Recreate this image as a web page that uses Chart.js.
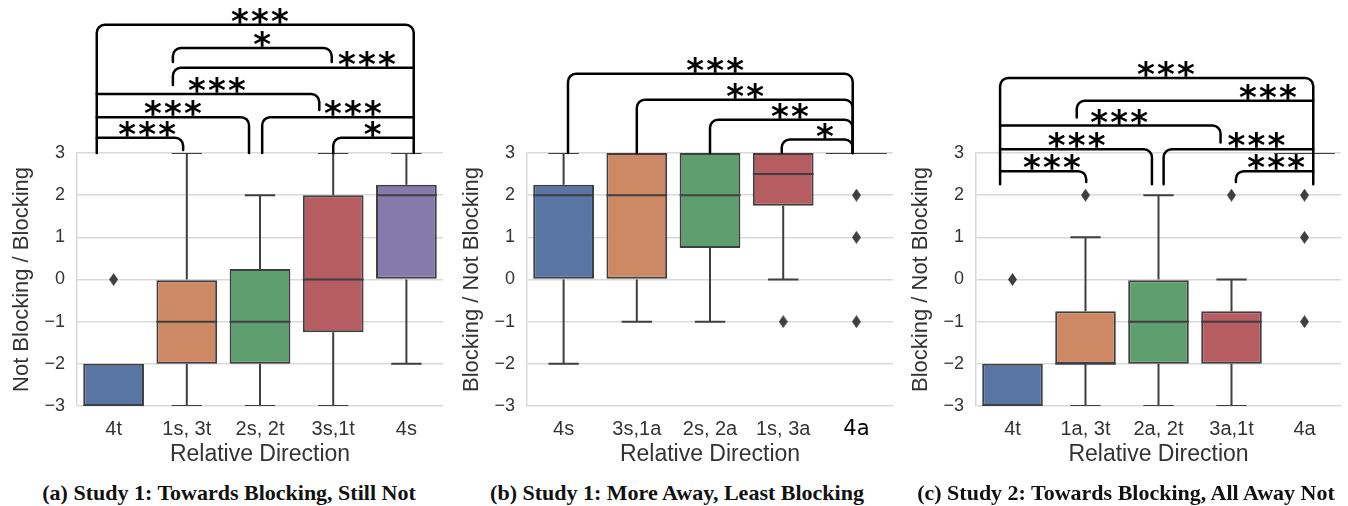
<!DOCTYPE html>
<html>
<head>
<meta charset="utf-8">
<script src="https://cdn.jsdelivr.net/npm/chart.js@4.4.1/dist/chart.umd.min.js"></script>
<style>
  body { margin: 0; background: #fff; width: 1348px; height: 506px; overflow: hidden; position: relative; }
  .panel { position: absolute; top: 0; width: 450px; height: 470px; }
  .caption { position: absolute; top: 480px; font: bold 22px "Liberation Serif", serif; color: #111; white-space: nowrap; transform: translateX(-50%); }
</style>
</head>
<body>
<div class="panel" style="left:0"><canvas id="chartA"></canvas></div>
<div class="panel" style="left:450px"><canvas id="chartB"></canvas></div>
<div class="panel" style="left:899px; width:449px"><canvas id="chartC"></canvas></div>
<div class="caption" style="left:229px">(a) Study 1: Towards Blocking, Still Not</div>
<div class="caption" style="left:677px">(b) Study 1: More Away, Least Blocking</div>
<div class="caption" style="left:1126px">(c) Study 2: Towards Blocking, All Away Not</div>
<script>
// (a) Study 1: Towards Blocking, Still Not
const labelsA = ['4t', '1s, 3t', '2s, 2t', '3s,1t', '4s'];
const lowA  = [-3, -3, -3, -3, -2];
const q1A   = [-3, -2, -2, -1.25, 0];
const medA  = [-3, -1, -1, 0, 2];
const q3A   = [-2, 0, 0.25, 2, 2.25];
const highA = [-2, 3, 2, 3, 3];
const outA  = [['4t', 0]];

// (b) Study 1: More Away, Least Blocking
const labelsB = ['4s', '3s,1a', '2s, 2a', '1s, 3a', '4a'];
const lowB  = [-2, -1, -1, 0, 3];
const q1B   = [0, 0, 0.75, 1.75, 3];
const medB  = [2, 2, 2, 2.5, 3];
const q3B   = [2.25, 3, 3, 3, 3];
const highB = [3, 3, 3, 3, 3];
const outB  = [['1s, 3a', -1], ['4a', 2], ['4a', 1], ['4a', -1]];

// (c) Study 2: Towards Blocking, All Away Not
const labelsC = ['4t', '1a, 3t', '2a, 2t', '3a,1t', '4a'];
const lowC  = [-3, -3, -3, -3, 3];
const q1C   = [-3, -2, -2, -2, 3];
const medC  = [-3, -2, -1, -1, 3];
const q3C   = [-2, -0.75, 0, -0.75, 3];
const highC = [-2, 1, 2, 0, 3];
const outC  = [['4t', 0], ['1a, 3t', 2], ['3a,1t', 2], ['4a', 2], ['4a', 1], ['4a', -1]];

const yTicks = [-3, -2, -1, 0, 1, 2, 3];

// significance brackets: [from, to, top, left end, right end, stars, stars at]
const sigA = [
  [-0.23, 4.1, 6.04, 3, 3, '***', 2.0],
  [0.81, 2.98, 5.49, 5.16, 5.16, '*', 2.03],
  [0.81, 4.1, 5.02, 4.61, 5.02, '***', 3.46],
  [-0.23, 2.81, 4.40, 4.40, 4.02, '***', 1.41],
  [-0.23, 1.85, 3.85, 3.85, 3, '***', 0.81],
  [2.03, 4.1, 3.85, 3, 3.85, '***', 3.27],
  [-0.23, 0.95, 3.36, 3.36, 3.07, '***', 0.46],
  [3.0, 4.1, 3.36, 3, 3.36, '*', 3.54]
];
const sigB = [
  [0.06, 3.95, 4.88, 3, 3, '***', 2.07],
  [1.0, 3.95, 4.26, 3, 3, '**', 2.48],
  [2.0, 3.95, 3.79, 3, 3, '**', 3.09],
  [2.98, 3.95, 3.32, 3, 3, '*', 3.57]
];
const sigC = [
  [-0.17, 4.12, 4.78, 2.26, 2.26, '***', 2.1],
  [0.88, 4.12, 4.24, 3.84, 4.24, '***', 3.5],
  [-0.17, 2.85, 3.65, 3.65, 3.25, '***', 1.46],
  [-0.17, 1.91, 3.09, 3.09, 2.26, '***', 0.88],
  [2.07, 4.12, 3.09, 2.26, 3.09, '***', 3.34],
  [-0.17, 1.01, 2.57, 2.57, 2.31, '***', 0.54],
  [3.06, 4.12, 2.57, 2.31, 2.57, '***', 3.61]
];

const COLORS = ['#5975a4', '#cc8963', '#5f9e6e', '#b55d60', '#857aab'];
const EDGE = '#3f3f3f';
const TEXT = '#333333';
const GRID = '#d9d9d9';
const FONT = '"Liberation Sans", Arial, sans-serif';

function diamond() {
    const c = document.createElement('canvas');
    c.width = 9;
    c.height = 13;
    const g = c.getContext('2d');
    g.fillStyle = EDGE;
    g.beginPath();
    g.moveTo(4.5, 0);
    g.lineTo(9, 6.5);
    g.lineTo(4.5, 13);
    g.lineTo(0, 6.5);
    g.closePath();
    g.fill();
    return c;
}

// medians and whiskers, drawn on top of the floating bars
const boxPlugin = {
    id: 'boxes',
    afterDatasetsDraw(chart) {
        const ds = chart.data.datasets[0];
        const meta = chart.getDatasetMeta(0);
        const y = chart.scales.y;
        const area = chart.chartArea;
        const ctx = chart.ctx;
        ctx.save();
        ctx.beginPath();
        ctx.rect(area.left, area.top, area.right - area.left, area.bottom - area.top);
        ctx.clip();
        ctx.strokeStyle = EDGE;
        ctx.lineWidth = 2;
        meta.data.forEach((bar, i) => {
            const half = bar.width / 2;
            const cap = bar.width / 4;
            const [q1, q3] = ds.data[i];
            const whiskers = [[q1, ds.low[i]], [q3, ds.high[i]]];
            whiskers.forEach(([from, to]) => {
                if (from === to) return;
                const a = y.getPixelForValue(from);
                const b = y.getPixelForValue(to);
                ctx.beginPath();
                ctx.moveTo(bar.x, a);
                ctx.lineTo(bar.x, b);
                ctx.moveTo(bar.x - cap, b);
                ctx.lineTo(bar.x + cap, b);
                ctx.stroke();
            });
            const m = y.getPixelForValue(ds.median[i]);
            ctx.beginPath();
            ctx.moveTo(bar.x - half, m);
            ctx.lineTo(bar.x + half, m);
            ctx.stroke();
        });
        ctx.restore();
    }
};

let starSize = null;

function drawStars(ctx, stars, cx, bottom) {
    if (!starSize) {
        ctx.font = 'bold 100px "DejaVu Sans"';
        const m = ctx.measureText('*');
        starSize = 100 * 16 / (m.actualBoundingBoxAscent + m.actualBoundingBoxDescent);
    }
    ctx.font = 'bold ' + starSize + 'px "DejaVu Sans"';
    ctx.textAlign = 'center';
    ctx.textBaseline = 'alphabetic';
    const m = ctx.measureText('*');
    const base = bottom - m.actualBoundingBoxDescent;
    for (let k = 0; k < stars.length; k++) {
        ctx.fillText('*', cx + (k - (stars.length - 1) / 2) * 20, base);
    }
}

function bracketPlugin(brackets) {
    return {
        id: 'brackets',
        afterDraw(chart) {
            const {ctx, scales: {x, y}} = chart;
            ctx.save();
            ctx.strokeStyle = '#000';
            ctx.fillStyle = '#000';
            ctx.lineWidth = 2.5;
            ctx.lineJoin = 'round';
            ctx.lineCap = 'round';
            brackets.forEach(([from, to, top, endL, endR, stars, at]) => {
                const x1 = x.getPixelForValue(from);
                const x2 = x.getPixelForValue(to);
                const yt = y.getPixelForValue(top);
                const yl = y.getPixelForValue(endL);
                const yr = y.getPixelForValue(endR);
                ctx.beginPath();
                ctx.moveTo(x1, yl);
                ctx.arcTo(x1, yt, x2, yt, Math.min(8, yl - yt));
                ctx.arcTo(x2, yt, x2, yr, Math.min(8, yr - yt));
                ctx.lineTo(x2, yr);
                ctx.stroke();
                drawStars(ctx, stars, x.getPixelForValue(at), yt - 1);
            });
            ctx.restore();
        }
    };
}

function drawPanel(id, labels, low, q1, med, q3, high, outliers, yTitle, brackets, oddLast) {
    const ctx = document.getElementById(id).getContext('2d');
    new Chart(ctx, {
        type: 'bar',
        data: {
            labels: labels,
            datasets: [{
                data: labels.map((_, i) => [q1[i], q3[i]]),
                low: low,
                median: med,
                high: high,
                backgroundColor: COLORS,
                borderColor: EDGE,
                borderWidth: 2,
                borderSkipped: false,
                barPercentage: 0.83,
                categoryPercentage: 1
            }, {
                type: 'scatter',
                data: outliers.map(([x, y]) => ({x: x, y: y})),
                pointStyle: diamond(),
                clip: false
            }]
        },
        options: {
            responsive: true,
            maintainAspectRatio: false,
            animation: false,
            layout: { padding: { top: 153, right: 7, left: 0, bottom: 0 } },
            plugins: { legend: { display: false }, tooltip: { enabled: false } },
            scales: {
                x: {
                    grid: { display: false },
                    border: { display: false },
                    ticks: {
                        padding: 3,
                        color: c => (oddLast && c.index === 4) ? '#000' : TEXT,
                        font: c => ({ family: (oddLast && c.index === 4) ? '"DejaVu Sans"' : FONT, size: (oddLast && c.index === 4) ? 21 : 20 })
                    },
                    title: {
                        display: true, text: 'Relative Direction', color: TEXT,
                        font: { family: FONT, size: 23 }, padding: { top: 0, bottom: 2 }
                    },
                    afterFit: s => { s.height = 64; }
                },
                y: {
                    min: -3,
                    max: 3,
                    afterBuildTicks: s => { s.ticks = yTicks.map(v => ({ value: v })); },
                    ticks: {
                        padding: 12, color: TEXT, font: { family: FONT, size: 18 },
                        callback: v => String(v).replace('-', '\u2212')
                    },
                    grid: { color: GRID, lineWidth: 1.5, drawTicks: false },
                    border: { display: true, color: GRID, width: 1.5 },
                    title: {
                        display: true, text: yTitle, color: TEXT,
                        font: { family: FONT, size: 22 }, padding: { top: 9, bottom: 0 }
                    },
                    afterFit: s => { s.width = 77; }
                }
            }
        },
        plugins: [boxPlugin, bracketPlugin(brackets)]
    });
}

drawPanel('chartA', labelsA, lowA, q1A, medA, q3A, highA, outA, 'Not Blocking / Blocking', sigA, false);
drawPanel('chartB', labelsB, lowB, q1B, medB, q3B, highB, outB, 'Blocking / Not Blocking', sigB, true);
drawPanel('chartC', labelsC, lowC, q1C, medC, q3C, highC, outC, 'Blocking / Not Blocking', sigC, false);
</script>
</body>
</html>
